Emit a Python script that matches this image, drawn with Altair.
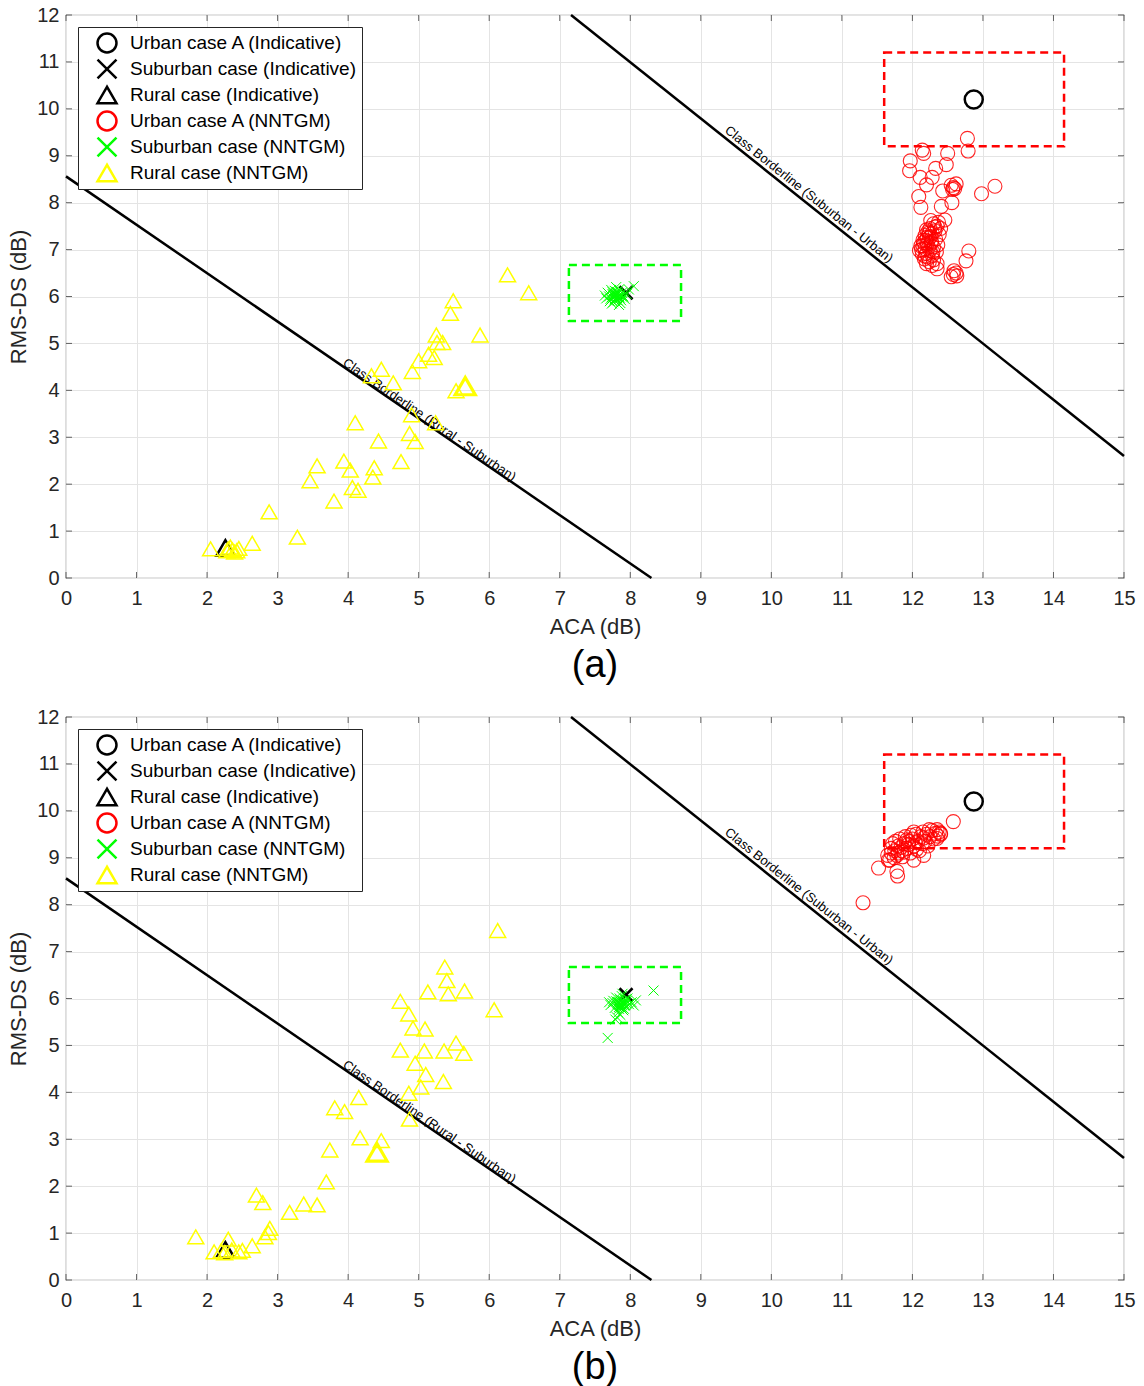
import math
import altair as alt
import pandas as pd

# ---------------- data ----------------
X_TICKS = list(range(0, 16))
Y_TICKS = list(range(0, 13))

SERIES = ["Urban case A (Indicative)", "Suburban case (Indicative)", "Rural case (Indicative)",
          "Urban case A (NNTGM)", "Suburban case (NNTGM)", "Rural case (NNTGM)"]
SERIES_COLORS = ["#000000", "#000000", "#000000", "#ff0000", "#00ff00", "#ffff00"]
X_PATH = "M-1,-1L1,1M-1,1L1,-1"
SERIES_SHAPES = ["circle", X_PATH, "triangle-up", "circle", X_PATH, "triangle-up"]

# class borderlines (endpoints)
RS_X = [0.0, 8.3]
RS_Y = [8.56, 0.0]
SU_X = [7.16, 15.0]
SU_Y = [12.0, 2.6]
RS_LABEL = "Class Borderline (Rural - Suburban)"
SU_LABEL = "Class Borderline (Suburban - Urban)"
RS_LABEL_POS = (5.12, 3.30)
SU_LABEL_POS = (10.47, 8.06)

# dashed boxes
RED_BOX = (11.6, 14.15, 9.2, 11.2)
GREEN_BOX = (7.13, 8.72, 5.48, 6.67)

# indicative points (same in both panels)
IND_URBAN = ([12.87], [10.2])
IND_SUBURBAN = ([7.94], [6.08])
IND_RURAL = ([2.26], [0.64])

# ---- panel (a) NNTGM ----
A_URBAN_X = [12.78, 12.79, 12.14, 12.16, 12.50, 11.97, 12.48, 11.96, 12.33, 12.11, 12.28, 12.20,
             12.55, 12.58, 12.62, 12.57, 12.60, 13.17, 12.98, 12.43, 12.09, 12.56, 12.12, 12.41,
             12.46, 12.80, 12.76, 12.59, 12.63, 12.55, 12.62, 12.58, 12.35,
             12.30, 12.35, 12.25, 12.32, 12.20, 12.28, 12.38, 12.18, 12.24, 12.33, 12.15, 12.27,
             12.21, 12.36, 12.12, 12.30, 12.18, 12.25, 12.10, 12.34, 12.20, 12.14, 12.28, 12.22,
             12.17, 12.30, 12.24, 12.20, 12.28, 12.35, 12.16, 12.26, 12.22, 12.40, 12.13, 12.23,
             12.19, 12.29, 12.37, 12.26, 12.21, 12.27, 12.18, 12.32, 12.24, 12.15]
A_URBAN_Y = [9.37, 9.10, 9.12, 9.05, 9.05, 8.89, 8.81, 8.68, 8.73, 8.54, 8.54, 8.38,
             8.37, 8.32, 8.40, 8.28, 8.30, 8.35, 8.19, 8.25, 8.13, 8.00, 7.90, 7.92,
             7.63, 6.97, 6.76, 6.55, 6.44, 6.42, 6.50, 6.47, 6.59,
             7.55, 7.50, 7.45, 7.40, 7.42, 7.35, 7.32, 7.30, 7.25, 7.22, 7.20, 7.18,
             7.12, 7.10, 7.08, 7.05, 7.02, 6.98, 6.98, 6.95, 6.92, 6.90, 6.88, 6.84,
             6.80, 6.78, 6.74, 6.70, 6.66, 6.70, 7.15, 7.28, 7.38, 7.45, 7.00, 7.05,
             7.20, 6.95, 7.58, 7.62, 7.26, 7.14, 6.86, 7.48, 7.36, 7.08]
A_SUB_X = [7.80, 7.75, 7.85, 7.72, 7.88, 7.78, 7.82, 7.70, 7.90, 7.76, 7.84, 7.68, 7.92, 7.80,
           7.74, 7.86, 7.66, 7.95, 7.79, 7.83, 7.77, 7.81, 7.73, 7.87, 7.98, 8.05, 7.71, 7.89,
           7.64, 7.84, 7.79, 7.81, 7.77, 7.83, 7.80, 7.76, 7.86, 7.74, 7.82, 7.78, 7.80, 7.84,
           7.75, 7.88, 7.79]
A_SUB_Y = [6.02, 6.05, 5.98, 5.95, 6.08, 6.12, 5.92, 6.00, 6.00, 5.88, 6.15, 6.08, 5.95, 6.20,
           5.85, 5.86, 5.96, 6.05, 5.96, 6.06, 6.00, 6.10, 6.14, 5.92, 6.15, 6.22, 5.90, 6.02,
           6.02, 5.82, 6.03, 5.99, 6.04, 6.01, 5.97, 6.02, 6.03, 5.99, 6.07, 5.94, 6.06, 5.98,
           6.09, 6.00, 5.93]
A_RURAL_X = [6.26, 6.56, 5.49, 5.45, 5.87, 5.25, 5.26, 5.34, 5.14, 5.22, 5.00, 4.91, 4.47, 4.33,
             4.64, 5.53, 4.90, 5.24, 4.10, 4.87, 4.95, 4.43, 3.94, 4.03, 3.56, 4.37, 4.35, 4.75,
             3.46, 4.06, 4.14, 3.80, 2.88, 3.28, 2.64, 2.30, 2.36, 2.42, 2.33, 2.45, 2.28, 2.39,
             2.05]
A_RURAL_Y = [6.46, 6.08, 5.91, 5.64, 5.18, 5.18, 5.02, 5.02, 4.77, 4.70, 4.63, 4.40, 4.45, 4.31,
             4.16, 3.99, 3.48, 3.31, 3.31, 3.08, 2.91, 2.92, 2.49, 2.30, 2.39, 2.35, 2.15, 2.48,
             2.07, 1.93, 1.87, 1.64, 1.41, 0.87, 0.74, 0.62, 0.60, 0.58, 0.66, 0.63, 0.58, 0.55,
             0.62]
A_RURAL_BOLD = ([5.66], [4.09])

# ---- panel (b) NNTGM ----
B_URBAN_X = [11.65, 11.70, 11.68, 11.75, 11.72, 11.78, 11.80, 11.82, 11.85, 11.88, 11.86, 11.90,
             11.92, 11.95, 11.97, 12.00, 12.02, 12.05, 12.08, 12.10, 12.12, 12.15, 12.18, 12.20,
             12.22, 12.25, 12.28, 12.30, 12.33, 12.36, 12.38, 12.40, 12.35, 11.74, 11.76, 11.84,
             11.94, 12.04, 12.06, 11.98, 12.14, 11.88, 11.70, 12.24, 12.16, 11.80, 11.92, 12.02,
             12.58, 11.52, 11.78, 11.79, 12.02, 12.16, 11.66, 11.30, 12.40, 12.35]
B_URBAN_Y = [9.05, 9.20, 8.95, 9.15, 9.30, 9.05, 9.25, 9.40, 9.15, 9.30, 9.02, 9.45,
             9.20, 9.35, 9.10, 9.40, 9.25, 9.50, 9.35, 9.15, 9.45, 9.55, 9.35, 9.50,
             9.25, 9.45, 9.58, 9.40, 9.52, 9.46, 9.55, 9.50, 9.60, 9.00, 9.35, 9.22,
             9.28, 9.32, 9.18, 9.48, 9.30, 9.12, 9.10, 9.60, 9.42, 9.10, 9.38, 9.55,
             9.77, 8.78, 8.71, 8.61, 8.95, 9.05, 8.95, 8.04, 9.52, 9.41]
B_SUB_X = [7.87, 7.82, 7.92, 7.78, 7.95, 7.85, 7.90, 7.75, 7.98, 7.83, 7.88, 7.72, 8.02, 7.86,
           7.80, 7.93, 7.76, 8.05, 7.84, 7.89, 7.81, 7.91, 7.79, 7.96, 7.70, 8.08, 7.85, 7.94,
           8.33, 7.68, 7.86, 7.88, 7.84, 7.90, 7.87, 7.83, 7.91, 7.85, 7.89, 7.82, 7.88, 7.86,
           7.93, 7.84, 7.80]
B_SUB_Y = [5.88, 5.92, 5.85, 5.80, 5.95, 6.00, 5.75, 5.90, 5.88, 5.70, 6.05, 5.86, 5.92, 5.65,
           6.02, 5.98, 5.95, 5.85, 5.82, 6.10, 5.60, 5.78, 5.55, 6.00, 5.92, 5.96, 5.87, 5.90,
           6.17, 5.16, 5.89, 5.86, 5.91, 5.87, 5.84, 5.93, 5.90, 5.83, 5.95, 5.88, 5.81, 5.97,
           5.86, 5.78, 5.94]
B_RURAL_X = [6.12, 5.37, 5.40, 5.13, 5.42, 5.65, 4.74, 6.07, 4.86, 4.92, 5.09, 5.53, 4.74, 5.08,
             5.36, 5.64, 4.95, 5.10, 5.35, 5.03, 4.86, 4.87, 4.15, 3.81, 3.95, 4.17, 4.47, 3.74,
             3.69, 2.70, 2.79, 3.37, 3.56, 3.17, 2.89, 2.87, 2.82, 2.64, 1.84, 2.30, 2.10, 2.20,
             2.35, 2.45, 2.50, 2.25]
B_RURAL_Y = [7.45, 6.67, 6.38, 6.14, 6.10, 6.16, 5.94, 5.76, 5.67, 5.37, 5.35, 5.05, 4.90, 4.88,
             4.88, 4.83, 4.62, 4.38, 4.23, 4.11, 3.98, 3.43, 3.89, 3.67, 3.59, 3.03, 2.97, 2.77,
             2.09, 1.81, 1.65, 1.62, 1.60, 1.44, 1.10, 1.01, 0.92, 0.73, 0.92, 0.87, 0.60, 0.62,
             0.64, 0.60, 0.63, 0.58]
B_RURAL_BOLD = ([4.41], [2.72])

# ---------------- chart ----------------
W, H = 1058, 563
FONT = "Liberation Sans"
TXT = "#262626"

xs = alt.Scale(domain=[0, 15], nice=False, zero=False)
ys = alt.Scale(domain=[0, 12], nice=False, zero=False)
x_axis = alt.Axis(values=X_TICKS, title="ACA (dB)", labelPadding=10, titlePadding=8, labelFlush=False)
y_axis = alt.Axis(values=Y_TICKS, title="RMS-DS (dB)", labelPadding=7, titlePadding=6, labelFlush=False)
color_scale = alt.Scale(domain=SERIES, range=SERIES_COLORS)
shape_scale = alt.Scale(domain=SERIES, range=SERIES_SHAPES)
legend = alt.Legend(title=None, orient="top-left", offset=12, padding=5, symbolOffset=13,
                    labelOffset=12, rowPadding=4, clipHeight=22, symbolSize=360, symbolStrokeWidth=2.5,
                    labelFontSize=19, labelFont=FONT, labelColor="#000000", labelLimit=500,
                    strokeColor="#262626", fillColor="#ffffff", cornerRadius=0)


def X(field="x"):
    return alt.X(f"{field}:Q", scale=xs, axis=x_axis)


def Y(field="y"):
    return alt.Y(f"{field}:Q", scale=ys, axis=y_axis)


def angle_of(lx, ly):
    dx = (lx[1] - lx[0]) / 15 * W
    dy = (ly[0] - ly[1]) / 12 * H
    return math.degrees(math.atan2(dy, dx))


def point_layer(xv, yv, name, size, sw, opacity=1.0):
    df = pd.DataFrame({"x": xv, "y": yv, "series": [name] * len(xv)})
    return alt.Chart(df).mark_point(filled=False, size=size, strokeWidth=sw, opacity=opacity).encode(
        x=X(), y=Y(),
        color=alt.Color("series:N", scale=color_scale, legend=legend),
        shape=alt.Shape("series:N", scale=shape_scale, legend=legend),
    )


def panel(urban, sub, rural, rural_bold, label):
    lines_df = pd.DataFrame({
        "x": RS_X + SU_X,
        "y": RS_Y + SU_Y,
        "id": ["rs", "rs", "su", "su"],
    })
    lines = alt.Chart(lines_df).mark_line(color="#000000", strokeWidth=2.5).encode(
        x=X(), y=Y(), detail="id:N")

    boxes_df = pd.DataFrame({
        "x": [RED_BOX[0], GREEN_BOX[0]], "x2": [RED_BOX[1], GREEN_BOX[1]],
        "y": [RED_BOX[2], GREEN_BOX[2]], "y2": [RED_BOX[3], GREEN_BOX[3]],
        "c": ["#ff0000", "#00ff00"],
    })
    boxes = alt.Chart(boxes_df).mark_rect(fillOpacity=0, strokeWidth=2.5, strokeDash=[8, 5]).encode(
        x=X(), x2="x2:Q", y=Y(), y2="y2:Q", stroke=alt.Stroke("c:N", scale=None))

    rs_txt = alt.Chart(pd.DataFrame({"x": [RS_LABEL_POS[0]], "y": [RS_LABEL_POS[1]], "t": [RS_LABEL]})).mark_text(
        angle=angle_of(RS_X, RS_Y), fontSize=13, font=FONT, baseline="alphabetic", align="center",
        color="#000000").encode(x=X(), y=Y(), text="t:N")
    su_txt = alt.Chart(pd.DataFrame({"x": [SU_LABEL_POS[0]], "y": [SU_LABEL_POS[1]], "t": [SU_LABEL]})).mark_text(
        angle=angle_of(SU_X, SU_Y), fontSize=13, font=FONT, baseline="bottom", align="center",
        color="#000000").encode(x=X(), y=Y(), text="t:N")

    tx = pd.DataFrame({"v": X_TICKS})
    ty = pd.DataFrame({"v": Y_TICKS})
    tick_kw = dict(color=TXT, thickness=1, size=6)
    t_bottom = alt.Chart(tx).mark_tick(orient="vertical", **tick_kw).encode(x=X("v"), y=alt.value(H - 3))
    t_top = alt.Chart(tx).mark_tick(orient="vertical", **tick_kw).encode(x=X("v"), y=alt.value(3))
    t_left = alt.Chart(ty).mark_tick(orient="horizontal", **tick_kw).encode(y=Y("v"), x=alt.value(3))
    t_right = alt.Chart(ty).mark_tick(orient="horizontal", **tick_kw).encode(y=Y("v"), x=alt.value(W - 3))

    layers = [
        lines, boxes, rs_txt, su_txt, t_bottom, t_top, t_left, t_right,
        point_layer(IND_URBAN[0], IND_URBAN[1], SERIES[0], 324, 2.5),
        point_layer(IND_SUBURBAN[0], IND_SUBURBAN[1], SERIES[1], 169, 2.5),
        point_layer(IND_RURAL[0], IND_RURAL[1], SERIES[2], 324, 2.5),
        point_layer(urban[0], urban[1], SERIES[3], 196, 1.1, 0.85),
        point_layer(sub[0], sub[1], SERIES[4], 100, 1.0),
        point_layer(rural[0], rural[1], SERIES[5], 256, 1.5),
        point_layer(rural_bold[0], rural_bold[1], SERIES[5], 400, 3.2),
    ]
    return alt.layer(*layers).properties(
        width=W, height=H,
        title=alt.TitleParams(text=label, orient="bottom", fontSize=38, font=FONT,
                              fontWeight="normal", color="#000000", offset=10),
    )


pa = panel((A_URBAN_X, A_URBAN_Y), (A_SUB_X, A_SUB_Y), (A_RURAL_X, A_RURAL_Y), A_RURAL_BOLD, "(a)")
pb = panel((B_URBAN_X, B_URBAN_Y), (B_SUB_X, B_SUB_Y), (B_RURAL_X, B_RURAL_Y), B_RURAL_BOLD, "(b)")

chart = alt.vconcat(pa, pb, spacing=20).resolve_scale(
    color="independent", shape="independent"
).properties(
    padding={"left": 7, "top": 4, "right": 0, "bottom": 2},
    background="#ffffff",
).configure_view(
    stroke="#8f8f8f", strokeWidth=1.2
).configure_axis(
    grid=True, gridColor="#e4e4e4", gridWidth=1, domain=False, ticks=False,
    labelFont=FONT, labelFontSize=20, labelColor=TXT,
    titleFont=FONT, titleFontSize=22, titleFontWeight="normal", titleColor=TXT,
)

chart.save("out.html", embed_options={"renderer": "svg", "actions": False})
